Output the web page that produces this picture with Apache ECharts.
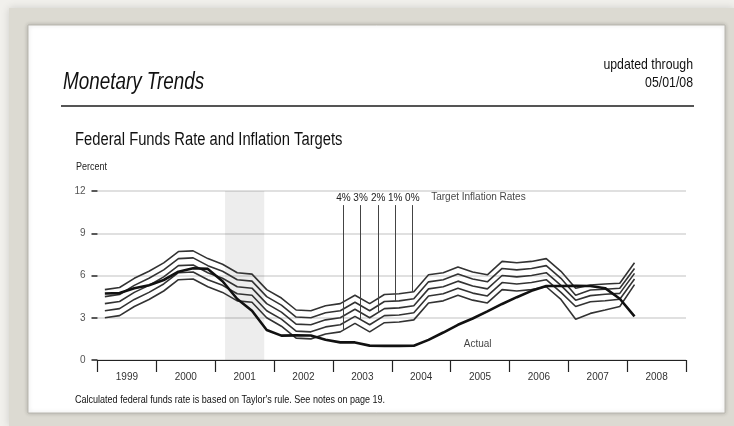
<!DOCTYPE html>
<html>
<head>
<meta charset="utf-8">
<script src="https://cdn.jsdelivr.net/npm/echarts@6/dist/echarts.min.js"></script>
<style>
  html, body { margin: 0; padding: 0; }
  #chart { width: 734px; height: 426px; }
</style>
</head>
<body>
<div id="chart"></div>
<script>
// quarters of the data (plotted at mid quarter)
var quarters = [
    '1999Q1', '1999Q2', '1999Q3', '1999Q4',
    '2000Q1', '2000Q2', '2000Q3', '2000Q4',
    '2001Q1', '2001Q2', '2001Q3', '2001Q4',
    '2002Q1', '2002Q2', '2002Q3', '2002Q4',
    '2003Q1', '2003Q2', '2003Q3', '2003Q4',
    '2004Q1', '2004Q2', '2004Q3', '2004Q4',
    '2005Q1', '2005Q2', '2005Q3', '2005Q4',
    '2006Q1', '2006Q2', '2006Q3', '2006Q4',
    '2007Q1', '2007Q2', '2007Q3', '2007Q4',
    '2008Q1'
];

// actual federal funds rate
var actualRate = [
    4.72, 4.75, 5.09, 5.31,
    5.68, 6.27, 6.52, 6.47,
    5.59, 4.33, 3.50, 2.13,
    1.73, 1.75, 1.74, 1.44,
    1.25, 1.25, 1.02, 1.00,
    1.00, 1.01, 1.43, 1.95,
    2.50, 2.95, 3.45, 3.98,
    4.46, 4.91, 5.25, 5.25,
    5.26, 5.25, 5.10, 4.35,
    3.10
];

// calculated rate for each target inflation rate
var target0 = [
    5.00, 5.15, 5.80, 6.30,
    6.90, 7.70, 7.75, 7.20,
    6.80, 6.20, 6.10, 5.00,
    4.40, 3.55, 3.50, 3.85,
    4.00, 4.60, 4.00, 4.65,
    4.70, 4.85, 6.05, 6.20,
    6.60, 6.25, 6.05, 7.00,
    6.90, 7.00, 7.20, 6.30,
    5.10, 5.33, 5.40, 5.45,
    6.90
];
var target1 = [
    4.50, 4.65, 5.30, 5.80,
    6.40, 7.20, 7.25, 6.70,
    6.30, 5.70, 5.60, 4.50,
    3.90, 3.05, 3.00, 3.35,
    3.50, 4.10, 3.50, 4.15,
    4.20, 4.35, 5.55, 5.70,
    6.10, 5.75, 5.55, 6.50,
    6.40, 6.50, 6.70, 5.80,
    4.60, 4.97, 5.02, 5.09,
    6.50
];
var target2 = [
    4.00, 4.15, 4.80, 5.30,
    5.90, 6.70, 6.75, 6.20,
    5.80, 5.20, 5.10, 4.00,
    3.40, 2.55, 2.50, 2.85,
    3.00, 3.60, 3.00, 3.65,
    3.70, 3.85, 5.05, 5.20,
    5.60, 5.25, 5.05, 6.00,
    5.90, 6.00, 6.20, 5.30,
    4.25, 4.57, 4.67, 4.73,
    6.15
];
var target3 = [
    3.50, 3.65, 4.30, 4.80,
    5.40, 6.20, 6.25, 5.70,
    5.30, 4.70, 4.60, 3.50,
    2.90, 2.05, 2.00, 2.35,
    2.50, 3.10, 2.50, 3.15,
    3.20, 3.35, 4.55, 4.70,
    5.10, 4.75, 4.55, 5.50,
    5.40, 5.50, 5.70, 4.80,
    3.80, 4.14, 4.21, 4.31,
    5.75
];
var target4 = [
    3.00, 3.15, 3.80, 4.30,
    4.90, 5.70, 5.75, 5.20,
    4.80, 4.20, 4.10, 3.00,
    2.40, 1.55, 1.50, 1.85,
    2.00, 2.60, 2.00, 2.65,
    2.70, 2.85, 4.05, 4.20,
    4.60, 4.25, 4.05, 5.00,
    4.90, 5.00, 5.20, 4.30,
    2.90, 3.31, 3.55, 3.80,
    5.35
];

var years = ['1999', '2000', '2001', '2002', '2003', '2004', '2005', '2006', '2007', '2008'];
var targetNames = ['0%', '1%', '2%', '3%', '4%'];
// where the leader line of each target label meets its line (decimal year)
var leaderYears = [2004.35, 2004.06, 2003.77, 2003.47, 2003.18];
// recession (March - November 2001)
var recession = [2001 + 2 / 12, 2001 + 10 / 12];

var FONT = "'Liberation Sans', Arial, sans-serif";
var NARROW = 0.82; // the original uses a condensed face

function quarterToYear(q) {
    var y = parseInt(q.slice(0, 4), 10);
    var n = parseInt(q.slice(5), 10);
    return y + (n - 1) / 4 + 1 / 8;
}

var xs = quarters.map(quarterToYear);

function pairs(values) {
    return values.map(function (v, i) { return [xs[i], v]; });
}

// value of a series at a given year
function valueAt(values, year) {
    for (var i = 0; i < xs.length - 1; i++) {
        if (year >= xs[i] && year <= xs[i + 1]) {
            var t = (year - xs[i]) / (xs[i + 1] - xs[i]);
            return values[i] + t * (values[i + 1] - values[i]);
        }
    }
    return values[values.length - 1];
}

// condensed text block for the page furniture
function label(text, x, y, size, align, extra) {
    return {
        type: 'text',
        x: x,
        y: y,
        scaleX: NARROW,
        style: Object.assign({
            text: text,
            font: size + 'px ' + FONT,
            fill: '#111',
            align: align,
            verticalAlign: 'middle'
        }, extra || {})
    };
}

var targets = [target0, target1, target2, target3, target4];

var series = targets.map(function (values, k) {
    return {
        name: targetNames[k],
        type: 'line',
        xAxisIndex: 1,
        data: pairs(values),
        symbol: 'none',
        silent: true,
        lineStyle: { color: '#333', width: 1.6 },
        markLine: {
            symbol: 'none',
            silent: true,
            lineStyle: { color: '#444', width: 1, type: 'solid' },
            label: {
                show: true,
                position: 'start',
                formatter: targetNames[k],
                color: '#222',
                fontFamily: FONT,
                fontSize: 10,
                distance: 2
            },
            data: [[
                { coord: [leaderYears[k], 11.0] },
                { coord: [leaderYears[k], valueAt(values, leaderYears[k])] }
            ]]
        }
    };
});

series.push({
    name: 'Actual',
    type: 'line',
    xAxisIndex: 1,
    data: pairs(actualRate),
    symbol: 'none',
    silent: true,
    z: 3,
    lineStyle: { color: '#111', width: 2.6 },
    markArea: {
        silent: true,
        itemStyle: { color: 'rgba(0,0,0,0.07)' },
        data: [[{ xAxis: recession[0], yAxis: 0 }, { xAxis: recession[1], yAxis: 12 }]]
    }
});

// text labels inside the plot
series.push({
    name: 'notes',
    type: 'scatter',
    xAxisIndex: 1,
    symbolSize: 0,
    silent: true,
    label: {
        show: true,
        position: 'inside',
        color: '#111',
        fontFamily: FONT,
        fontSize: 10,
        formatter: function (p) { return p.data.text; }
    },
    data: [
        { value: [2004.67, 11.55], text: 'Target Inflation Rates', label: { align: 'left' } },
        { value: [2005.46, 1.14], text: 'Actual' }
    ]
});

var myChart = echarts.init(document.getElementById('chart'));

var option = {
    backgroundColor: '#f1f0ec',
    animation: false,
    graphic: [
        {
            type: 'rect',
            shape: { x: 9, y: 8, width: 725, height: 418 },
            style: { fill: '#dcdad2', shadowBlur: 8, shadowColor: 'rgba(0,0,0,0.15)' },
            z: -10
        },
        {
            type: 'rect',
            shape: { x: 28, y: 25, width: 697, height: 388 },
            style: { fill: '#fff', stroke: '#b9b7af', lineWidth: 1, shadowBlur: 4, shadowColor: 'rgba(0,0,0,0.2)' },
            z: -9
        },
        label('Monetary Trends', 63, 83, 23, 'left', { font: 'italic 23px ' + FONT }),
        label('updated through', 693, 65, 15, 'right'),
        label('05/01/08', 693, 83, 15, 'right'),
        {
            type: 'line',
            shape: { x1: 61, y1: 106, x2: 694, y2: 106 },
            style: { stroke: '#555', lineWidth: 2 }
        },
        label('Federal Funds Rate and Inflation Targets', 75, 140, 18, 'left'),
        label('Percent', 76, 167, 11, 'left', { fill: '#222' }),
        label("Calculated federal funds rate is based on Taylor's rule. See notes on page 19.", 75, 400, 11, 'left')
    ],
    grid: { left: 97.5, right: 48, top: 191, bottom: 66 },
    xAxis: [
        {
            type: 'category',
            data: years,
            boundaryGap: true,
            axisLine: { lineStyle: { color: '#222', width: 1.2 } },
            axisTick: { show: true, interval: 0, alignWithLabel: false, length: 12, lineStyle: { color: '#222', width: 1.2 } },
            axisLabel: { interval: 0, margin: 12, color: '#333', fontFamily: FONT, fontSize: 10 },
            splitLine: { show: false }
        },
        {
            type: 'value',
            min: 1999,
            max: 2009,
            show: false
        }
    ],
    yAxis: {
        type: 'value',
        min: 0,
        max: 12,
        interval: 3,
        axisLine: { show: false },
        axisTick: { show: true, length: 6, lineStyle: { color: '#222', width: 1.5 } },
        axisLabel: { margin: 12, color: '#555', fontFamily: FONT, fontSize: 10 },
        splitLine: { lineStyle: { color: '#d6d6d6', width: 1.5 } }
    },
    series: series
};

myChart.setOption(option);
</script>
</body>
</html>
